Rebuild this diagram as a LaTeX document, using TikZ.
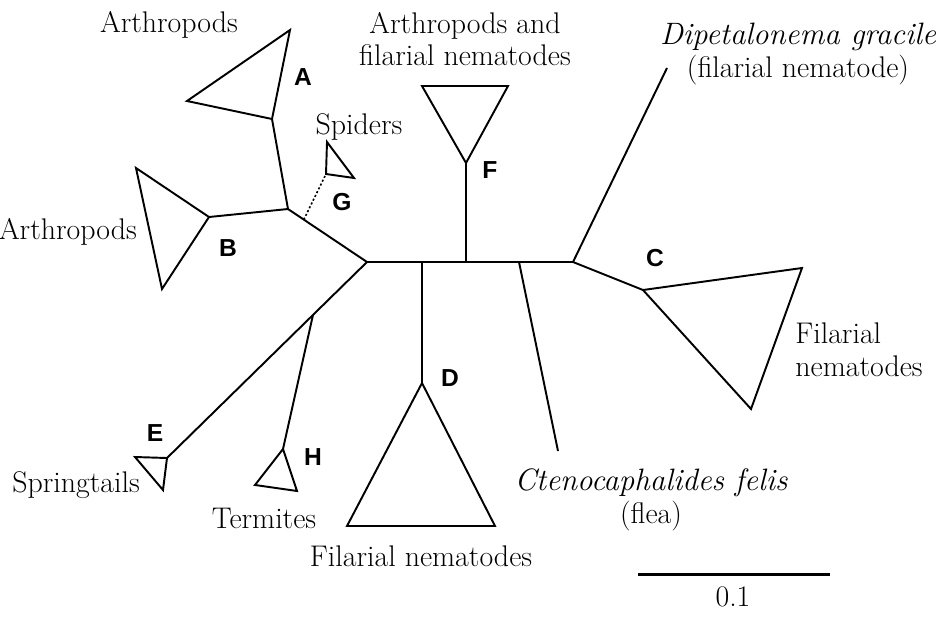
\documentclass[tikz,border=0pt]{standalone}
\usepackage{fontspec}
\newfontfamily\letterfont{Liberation Sans}
\newcommand\speciesfont{\fontsize{17.6}{18.7}\selectfont\itshape}
\usetikzlibrary{calc}
\tikzset{
  branch/.style={line width=1.1pt},
  taxon/.style={font=\fontsize{17}{18.7}\selectfont,align=center,inner sep=0pt},
  clade/.style={font=\letterfont\bfseries\fontsize{14}{14}\selectfont,inner sep=0pt},
}
\begin{document}
\begin{tikzpicture}[x=0.02cm,y=-0.02cm]
\useasboundingbox (0,0) rectangle (945,619);

%%%Backbone
\coordinate (ctr) at (367,262);
\foreach \n/\x in {d/422,f/466,flea/519,r/573} \coordinate (\n) at (\x,262);
\draw[branch] (ctr) -- (r);

%%%Clades A and B, spiders G
\begin{scope}
%Nodes and corners
\coordinate (j1) at (288,209);
\coordinate (a) at (272,119); \coordinate (a1) at (290,30); \coordinate (a2) at (187,101);
\coordinate (b) at (209,217); \coordinate (b1) at (136,168); \coordinate (b2) at (162,289);
\coordinate (g) at (326,174); \coordinate (g1) at (327,142); \coordinate (g2) at (354,178);
\coordinate (gbase) at ($(j1)!0.2!(ctr)$);
%Branches and triangles
\draw[branch] (ctr) -- (j1) -- (a);
\draw[branch] (j1) -- (b);
\draw[branch] (a) -- (a1) -- (a2) -- cycle;
\draw[branch] (b) -- (b1) -- (b2) -- cycle;
\draw[line width=0.9pt,dash pattern=on 1.2pt off 1.2pt] (gbase) -- (g);
\draw[branch] (g) -- (g1) -- (g2) -- cycle;
%Labels
\node[taxon] (tA) at (169,25) {Arthropods};
\node[taxon] (tB) at (68,232) {Arthropods};
\node[taxon] (tG) at (359,127) {Spiders};
\end{scope}

%%%Clades E and H
\begin{scope}
\coordinate (e) at (167,458); \coordinate (e1) at (135,457); \coordinate (e2) at (163,490);
\coordinate (j2) at ($(ctr)!0.27!(e)$);
\coordinate (h) at (283,449); \coordinate (h1) at (255,485); \coordinate (h2) at (297,491);
\draw[branch] (ctr) -- (e);
\draw[branch] (j2) -- (h);
\draw[branch] (e) -- (e1) -- (e2) -- cycle;
\draw[branch] (h) -- (h1) -- (h2) -- cycle;
\node[taxon] (tE) at (76,485) {Springtails};
\node[taxon] (tH) at (264,518) {Termites};
\end{scope}

%%%Clades D and F, flea
\begin{scope}
\coordinate (dn) at (422,383); \coordinate (d1) at (347,526); \coordinate (d2) at (495,526);
\coordinate (fn) at (466,163); \coordinate (f1) at (422,86); \coordinate (f2) at (508,86);
\coordinate (fleaend) at (558,451);
\draw[branch] (d) -- (dn);
\draw[branch] (dn) -- (d1) -- (d2) -- cycle;
\draw[branch] (f) -- (fn);
\draw[branch] (fn) -- (f1) -- (f2) -- cycle;
\draw[branch] (flea) -- (fleaend);
\node[taxon] (tD) at (421,556) {Filarial nematodes};
\node[taxon] (tF) at (465,39) {Arthropods and\\filarial nematodes};
\node[taxon] (tFlea) at (651,500) {{\speciesfont Ctenocaphalides felis}\\(flea)};
\end{scope}

%%%Clade C, Dipetalonema
\begin{scope}
\coordinate (c) at (643,290); \coordinate (c1) at (802,268); \coordinate (c2) at (751,409);
\coordinate (dip) at (667,68);
\draw[branch] (r) -- (dip);
\draw[branch] (r) -- (c);
\draw[branch] (c) -- (c1) -- (c2) -- cycle;
\node[taxon] (tDip) at (798,54) {{\speciesfont Dipetalonema gracile}\\(filarial nematode)};
\node[taxon,align=left,anchor=west] (tC) at (795,350) {Filarial\\nematodes};
\end{scope}

%%%Clade letters
\foreach \x/\y/\t in {303/77/A,228/248/B,655/258/C,450/378/D,155/433/E,490/170/F,342/202/G,313/457/H}
  \node[clade] (l\t) at (\x,\y) {\t};

%%%Scale bar
\coordinate (s1) at (638,574); \coordinate (s2) at (830,574);
\draw[line width=1.7pt] (s1) -- (s2);
\node[taxon] (tScale) at (733,597) {0.1};

\end{tikzpicture}
\end{document}
